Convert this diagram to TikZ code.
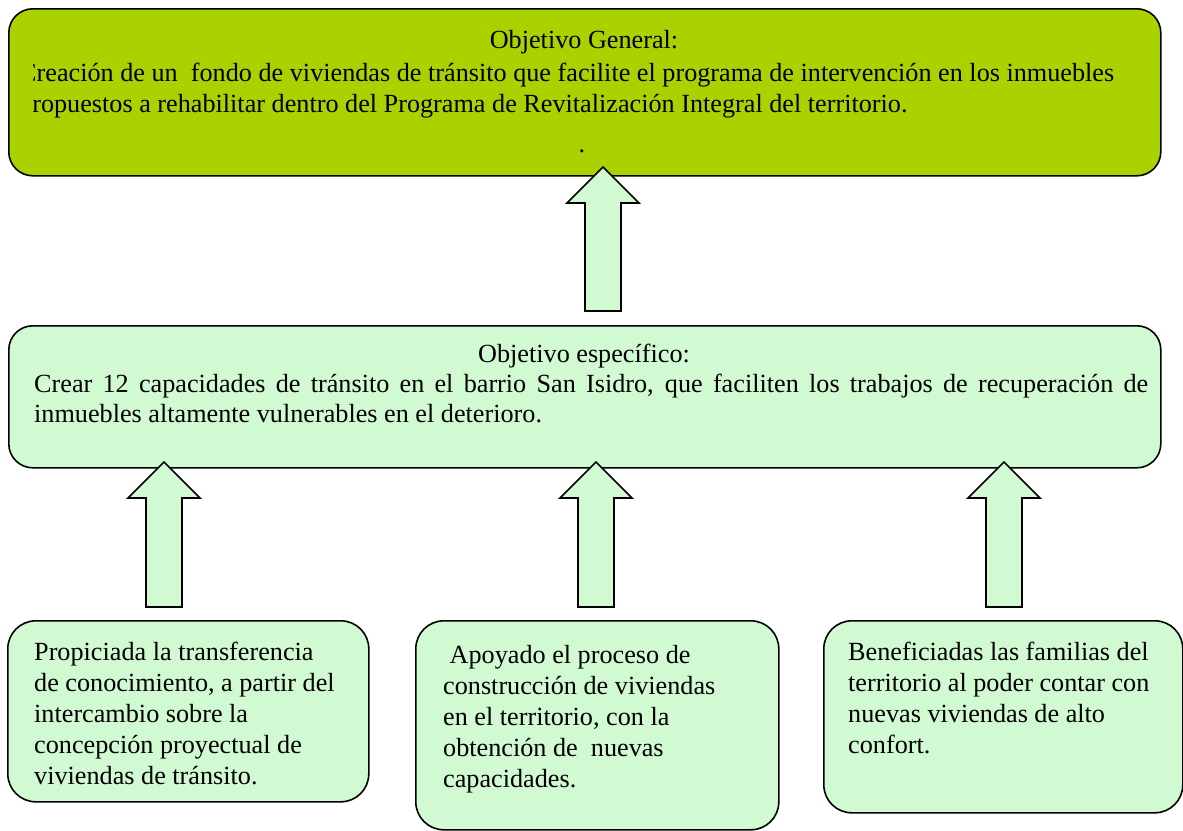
\documentclass[tikz,border=0pt]{standalone}
\usepackage{fontspec}
\setmainfont{Liberation Serif}
\definecolor{limegreen}{RGB}{170,210,0}
\definecolor{palegreen}{RGB}{210,250,210}
\tikzset{
  box/.style={draw=black, line width=1.6pt, rounded corners=24pt, inner sep=0pt, anchor=north west},
  txt/.style={inner sep=0pt, anchor=base west, align=left, font=\fontsize{26.2pt}{31pt}\selectfont},
  ctxt/.style={inner sep=0pt, anchor=base, font=\fontsize{26.2pt}{31pt}\selectfont},
  blockarrow/.style={draw=black, line width=1.6pt, fill=palegreen, line join=miter}
}
\newcommand\upblockarrow[3]{% x, tip y, bottom y
  \draw[blockarrow] (#1,#2) -- (#1+36,#2+36) -- (#1+18,#2+36) -- (#1+18,#3)
     -- (#1-18,#3) -- (#1-18,#2+36) -- (#1-36,#2+36) -- cycle;
}
\begin{document}
\begin{tikzpicture}[x=1pt,y=-1pt]
\useasboundingbox (0,0) rectangle (1183,830);
% boxes
\node[box, fill=limegreen, minimum width=1152pt, minimum height=167pt] (gen) at (8,8) {};
\node[box, fill=palegreen, minimum width=1152pt, minimum height=142pt] (esp) at (8,325) {};
\node[box, fill=palegreen, minimum width=361pt, minimum height=181pt, rounded corners=28pt] (r1) at (7,620) {};
\node[box, fill=palegreen, minimum width=363pt, minimum height=209pt, rounded corners=28pt] (r2) at (415,620) {};
\node[box, fill=palegreen, minimum width=359pt, minimum height=192pt, rounded corners=28pt] (r3) at (823,620) {};
% top text
\node[ctxt] (gtitle) at (584,48) {Objetivo General:};
\begin{scope}
\clip (33,10) rectangle (1158,170);
\node[txt] (gtext) at (19,112) {Creación de un\ \ fondo de viviendas de tránsito que facilite el programa de intervención en los inmuebles\\propuestos a rehabilitar dentro del Programa de Revitalización Integral del territorio.};
\end{scope}
\node[ctxt] (gdot) at (582,152) {.};
% middle text
\node[ctxt] (etitle) at (584,362) {Objetivo específico:};
\node[txt, font=\fontsize{26.2pt}{30pt}\selectfont] (etext) at (34,422) {\makebox[1114pt][s]{Crear 12 capacidades de tránsito en el barrio San Isidro, que faciliten los trabajos de recuperación de}\\inmuebles altamente vulnerables en el deterioro.};
% bottom texts
\node[txt] (t1) at (34,784) {Propiciada la transferencia\\de conocimiento, a partir del\\intercambio sobre la\\concepción proyectual de\\viviendas de tránsito.};
\node[txt] (t2) at (443,787) {\hspace{6.5pt}Apoyado el proceso de\\construcción de viviendas\\en el territorio, con la\\obtención de\ \ nuevas\\capacidades.};
\node[txt] (t3) at (848,753) {Beneficiadas las familias del\\territorio al poder contar con\\nuevas viviendas de alto\\confort.};
% block arrows
\upblockarrow{603}{167}{311}
\upblockarrow{164}{462}{607}
\upblockarrow{596}{462}{607}
\upblockarrow{1004}{462}{607}
\end{tikzpicture}
\end{document}
